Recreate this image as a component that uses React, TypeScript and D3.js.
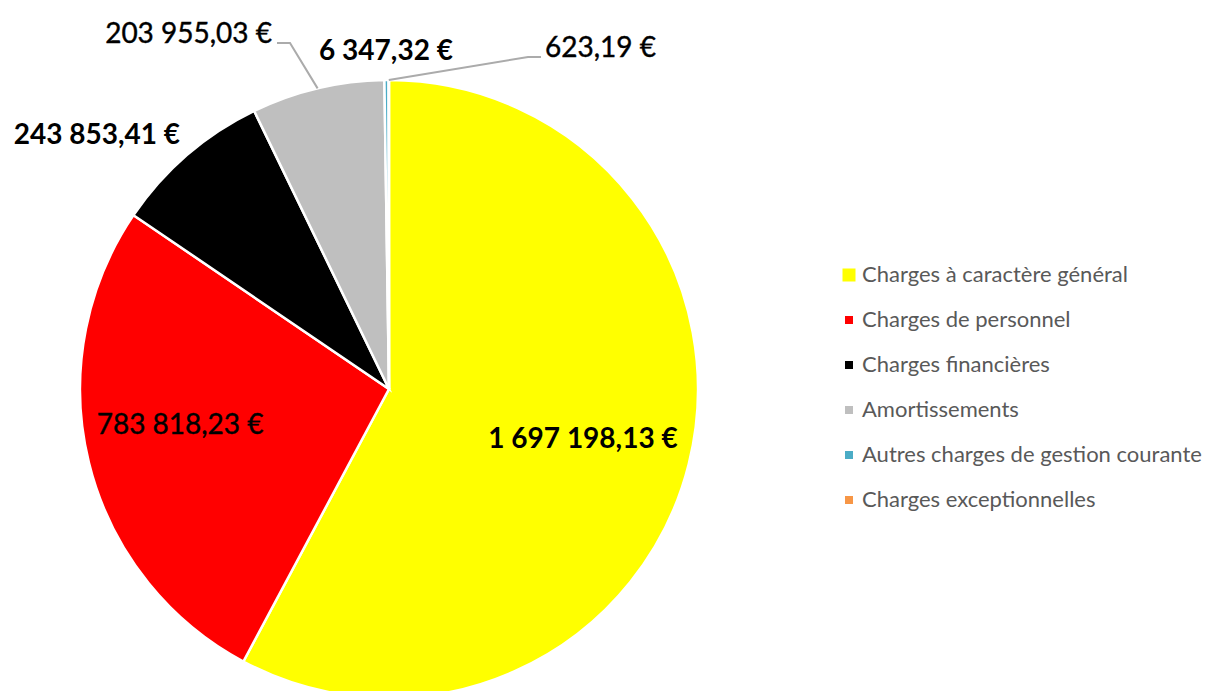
import React from "react";
import * as d3 from "d3";

const categories = [
  "Charges à caractère général",
  "Charges de personnel",
  "Charges financières",
  "Amortissements",
  "Autres charges de gestion courante",
  "Charges exceptionnelles",
];
const values = [1697198.13, 783818.23, 243853.41, 203955.03, 6347.32, 623.19];
const valueLabels = [
  "1 697 198,13 €",
  "783 818,23 €",
  "243 853,41 €",
  "203 955,03 €",
  "6 347,32 €",
  "623,19 €",
];
const colors = ["#FFFF00", "#FF0000", "#000000", "#BFBFBF", "#4BACC6", "#F79646"];

const W = 1210;
const H = 691;
const cx = 389;
const cy = 389;
const R = 309;
const FONT = "Lato, 'Open Sans', 'Liberation Sans', sans-serif";

// label layout (styling / placement only)
type Lab = {
  mode: "inside" | "outside";
  r?: number;
  dx: number;
  dy: number;
  anchor: "start" | "middle" | "end";
  bold: boolean;
  leader?: [number, number][];
};
const labelLayout: Lab[] = [
  { mode: "inside", r: 200, dx: 0, dy: 10, anchor: "middle", bold: true },
  { mode: "inside", r: 210, dx: -5, dy: -5, anchor: "middle", bold: false },
  { mode: "outside", dx: 180 - cx, dy: 144 - cy, anchor: "end", bold: true },
  {
    mode: "outside",
    dx: 272 - cx,
    dy: 43 - cy,
    anchor: "end",
    bold: false,
    leader: [
      [290 - cx, 43 - cy],
      [277 - cx, 43 - cy],
    ],
  },
  { mode: "outside", dx: 386 - cx, dy: 60 - cy, anchor: "middle", bold: true },
  {
    mode: "outside",
    dx: 545 - cx,
    dy: 57 - cy,
    anchor: "start",
    bold: false,
    leader: [
      [528 - cx, 57 - cy],
      [541 - cx, 57 - cy],
    ],
  },
];

export default function App() {
  const pie = d3
    .pie<number>()
    .sort(null)
    .value((d) => d)
    .startAngle(0)
    .endAngle(2 * Math.PI);
  const arcs = pie(values);
  const arc = d3.arc<d3.PieArcDatum<number>>().innerRadius(0).outerRadius(R);

  const legendX = 849;
  const legendY0 = 275;
  const legendStep = 45;

  return (
    <svg
      width={W}
      height={H}
      style={{ position: "absolute", left: 0, top: 0, background: "#fff" }}
    >
      <g transform={`translate(${cx},${cy})`}>
        {arcs.map((a, i) => (
          <path key={i} d={arc(a) || ""} fill={colors[i]} stroke="#fff" strokeWidth={2.5} />
        ))}
        {arcs.map((a, i) => {
          const L = labelLayout[i];
          if (!L.leader) return null;
          const mid = (a.startAngle + a.endAngle) / 2;
          const start: [number, number] = [R * Math.sin(mid), -R * Math.cos(mid)];
          const pts = [start, ...L.leader];
          return (
            <path
              key={"l" + i}
              d={d3.line()(pts) || ""}
              fill="none"
              stroke="#ABABAB"
              strokeWidth={2}
            />
          );
        })}
        {arcs.map((a, i) => {
          const L = labelLayout[i];
          let x = L.dx;
          let y = L.dy;
          if (L.mode === "inside") {
            const mid = (a.startAngle + a.endAngle) / 2;
            x = (L.r as number) * Math.sin(mid) + L.dx;
            y = -(L.r as number) * Math.cos(mid) + L.dy;
          }
          return (
            <text
              key={"t" + i}
              x={x}
              y={y}
              textAnchor={L.anchor}
              fontFamily={FONT}
              fontSize={28}
              fontWeight={L.bold ? 700 : 400}
              fill="#000"
              stroke={L.bold ? "none" : "#000"}
              strokeWidth={L.bold ? 0 : 0.4}
            >
              {valueLabels[i]}
            </text>
          );
        })}
      </g>
      <g>
        {categories.map((c, i) => {
          const s = i === 0 ? 13 : 8;
          const y = legendY0 + i * legendStep;
          return (
            <g key={c}>
              <rect x={legendX - s / 2} y={y - s / 2} width={s} height={s} fill={colors[i]} />
              <text
                x={862}
                y={y + 7}
                fontFamily={FONT}
                fontSize={22}
                fill="#595959"
              >
                {c}
              </text>
            </g>
          );
        })}
      </g>
    </svg>
  );
}
